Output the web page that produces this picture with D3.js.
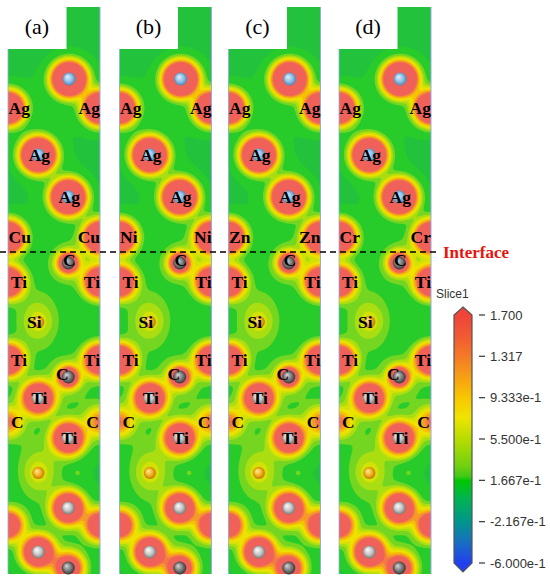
<!DOCTYPE html>
<html><head><meta charset="utf-8">
<script src="https://cdn.jsdelivr.net/npm/d3@7"></script>
<style>body{margin:0;background:#fff}</style>
</head><body><svg id="c" width="550" height="584"></svg>
<script>
// ---------------- data ----------------
const panelLabels = ["(a)", "(b)", "(c)", "(d)"];
const interfaceMetal = ["Cu", "Ni", "Zn", "Cr"];
// atom sites: fractional position across the slice (u: 0..1) and depth z (Å)
const atoms = [
  {el:"Ag", kind:"Ag",   u:0.665, z:7.2,  ball:"blue",   label:false},
  {el:"Ag", kind:"AgE",  u:0,     z:10.1, ball:null,     label:true},
  {el:"Ag", kind:"AgE",  u:1,     z:10.1, ball:null,     label:true},
  {el:"Ag", kind:"Ag",   u:0.33,  z:14.8, ball:"blue",   label:true},
  {el:"Ag", kind:"Ag",   u:0.655, z:19.0, ball:"blue",   label:true},
  {el:"M",  kind:"M",    u:0,     z:23.0, ball:null,     label:true},
  {el:"M",  kind:"M",    u:1,     z:23.0, ball:null,     label:true},
  {el:"C",  kind:"C",    u:0.655, z:25.6, ball:"dark",   label:true},
  {el:"Ti", kind:"TiE",  u:0,     z:27.5, ball:null,     label:true},
  {el:"Ti", kind:"TiE",  u:1,     z:27.5, ball:null,     label:true},
  {el:"Si", kind:"Si",   u:0.33,  z:31.5, ball:"orange", label:true},
  {el:"Ti", kind:"TiE",  u:0,     z:35.3, ball:null,     label:true},
  {el:"Ti", kind:"TiE",  u:1,     z:35.3, ball:null,     label:true},
  {el:"C",  kind:"C",    u:0.655, z:37.0, ball:"dark",   label:true},
  {el:"Ti", kind:"Ti",   u:0.33,  z:39.1, ball:"gray",   label:true},
  {el:"C",  kind:"CE",   u:0,     z:41.5, ball:null,     label:true},
  {el:"C",  kind:"CE",   u:1,     z:41.5, ball:null,     label:true},
  {el:"Ti", kind:"Ti",   u:0.655, z:43.1, ball:"gray",   label:true},
  {el:"Si", kind:"Si",   u:0.33,  z:46.6, ball:"orange", label:false},
  {el:"",   kind:"spot", u:0.76,  z:46.6, ball:null,     label:false},
  {el:"Ti", kind:"Ti",   u:0.655, z:50.1, ball:"gray",   label:false},
  {el:"Ti", kind:"TiE2", u:0,     z:51.8, ball:null,     label:false},
  {el:"Ti", kind:"TiE2", u:1,     z:51.8, ball:null,     label:false},
  {el:"Ti", kind:"Ti",   u:0.33,  z:54.5, ball:"gray",   label:false},
  {el:"Ti", kind:"TiB",  u:0.655, z:56.1, ball:"dark",   label:false}
];
const interfaceZ = 24.5;
// colour bar
const barTicks = [1.700, 1.317, 0.9333, 0.5500, 0.1667, -0.2167, -0.6000];
const barTickLabels = ["1.700", "1.317", "9.333e-1", "5.500e-1", "1.667e-1", "-2.167e-1", "-6.000e-1"];
const barStops = [
  [1.70, "#f0443a"], [1.50, "#f25a32"], [1.317, "#f47a28"], [1.12, "#f6a014"],
  [0.933, "#f8c600"], [0.75, "#f0e400"], [0.55, "#b8dc00"], [0.30, "#70d010"],
  [0.20, "#40c818"], [0.1667, "#00c800"], [0.0, "#00b450"], [-0.2167, "#00968c"],
  [-0.40, "#1870c0"], [-0.60, "#2040f0"]
];
// field colour levels
const fieldLevels = [-10, 0.19, 0.33, 0.45, 0.58, 0.72, 0.95, 1.2, 1.48, 1.7];
const fieldColors = ["#22c23c", "#28cc2a", "#74d620", "#aade10", "#d3e204", "#ece100", "#f5c200", "#f59a28", "#f37a42", "#f0615a"];

// ---------------- layout ----------------
const svg = d3.select("#c");
const W = 92, H = 567, TOP = 7;
const lefts = [8, 119.5, 228.5, 339];
const xs = d3.scaleLinear().domain([0, 1]).range([0, W]);
const zs = d3.scaleLinear().domain([0, 56.7]).range([0, H]);

const defs = svg.append("defs");
const ballGrad = {
  blue:   ["#e4f2fc", "#8ec0e6", "#3f7bae"],
  gray:   ["#ffffff", "#c4c4c4", "#6a6a6a"],
  dark:   ["#d8d8d8", "#7a7a7a", "#2a2a2a"],
  orange: ["#fff0a0", "#f0b020", "#b86a00"]
};
Object.entries(ballGrad).forEach(([k, c]) => {
  const g = defs.append("radialGradient").attr("id", "ball-" + k)
    .attr("cx", "50%").attr("cy", "50%").attr("r", "55%").attr("fx", "35%").attr("fy", "32%");
  g.append("stop").attr("offset", "0%").attr("stop-color", c[0]);
  g.append("stop").attr("offset", "55%").attr("stop-color", c[1]);
  g.append("stop").attr("offset", "100%").attr("stop-color", c[2]);
});

function contrib(kind, dx, dy) {
  const r2 = dx*dx + dy*dy;
  const tail = 0.1 * Math.exp(-r2 / 900);
  const core = R => 1.7 * Math.exp((R*R - r2) / 150);
  switch (kind) {
    case "Ag":   return core(16) + tail;
    case "AgE":  return core(14.5) + tail;
    case "M":    return core(14) + tail;
    case "TiE":  return core(13) + tail;
    case "TiE2": return core(10.5) + tail;
    case "Ti":   return core(13.2) + tail;
    case "TiB":  return core(10.5) + tail;
    case "C":    return 1.7 * Math.exp((64 - r2) / 70) + 0.3 * Math.exp(-r2 / 300) + tail;
    case "CE":   return 1.25 * Math.exp(-r2 / 130) + 0.2 * Math.exp(-r2 / 400) + tail;
    case "Si":   return 0.3 * Math.exp(-(dx*dx/386 + (dy+2)*(dy+2)/700)) + 0.14 * Math.exp(-r2 / 110) + tail;
    case "spot": return 0.14 * Math.exp(-r2 / 16);
  }
  return 0;
}

const colorOf = d3.scaleOrdinal(fieldLevels, fieldColors);

panelLabels.forEach((lab, p) => {
  const g = svg.append("g").attr("transform", `translate(${lefts[p]},${TOP})`);
  const pos = atoms.map(a => ({...a, px: xs(a.u), py: zs(a.z),
      name: a.el === "M" ? interfaceMetal[p] : a.el}));
  const vals = new Float64Array(W * H);
  for (let j = 0; j < H; j++) {
    const py = j + 0.5;
    for (let i = 0; i < W; i++) {
      const px = i + 0.5;
      let v = 0.15;
      for (const a of pos) {
        const dx = px - a.px, dy = py - a.py;
        if (dx*dx + dy*dy > 5000) continue;
        v += contrib(a.kind, dx, dy);
      }
      vals[j * W + i] = v;
    }
  }
  const contours = d3.contours().size([W, H]).thresholds(fieldLevels)(vals);
  g.selectAll("path.field").data(contours).join("path").attr("class", "field")
    .attr("d", d3.geoPath()).attr("fill", d => colorOf(d.value));
  // thin edges
  g.append("line").attr("x1", W).attr("x2", W).attr("y1", 0).attr("y2", H)
    .attr("stroke", "#9aa8ee").attr("stroke-width", 1);
  g.append("line").attr("x1", 0).attr("x2", 0).attr("y1", 42).attr("y2", H)
    .attr("stroke", "#8fb0e0").attr("stroke-width", 0.8);
  // balls
  g.selectAll("circle.ball").data(pos.filter(a => a.ball)).join("circle").attr("class", "ball")
    .attr("cx", a => a.px).attr("cy", a => a.py).attr("r", a => a.ball === "orange" ? 6 : 6.5)
    .attr("fill", a => `url(#ball-${a.ball})`);
  // labels
  g.selectAll("text.el").data(pos.filter(a => a.label)).join("text").attr("class", "el")
    .attr("x", a => a.u === 0 ? a.px + (a.kind === "CE" || a.kind === "TiE" ? 3 : 0.5)
                 : a.u === 1 ? a.px - (a.kind === "CE" ? 1 : 0)
                 : a.px + (a.kind === "C" && a.z > 30 ? -6 : a.kind === "Si" ? -4 : 1))
    .attr("y", a => a.py + (a.kind === "C" ? 3 : 5.5))
    .attr("text-anchor", a => a.u === 0 ? "start" : a.u === 1 ? "end" : "middle")
    .attr("font-family", "Liberation Serif, Times New Roman, serif")
    .attr("font-weight", "bold").attr("font-size", 17.5).attr("fill", "#000")
    .text(a => a.name);
  // white label box
  g.append("rect").attr("x", -1).attr("y", -1).attr("width", 59.5).attr("height", 43).attr("fill", "#fff");
  g.append("text").attr("x", 29).attr("y", 27).attr("text-anchor", "middle")
    .attr("font-family", "Liberation Serif, Times New Roman, serif").attr("font-size", 22)
    .attr("fill", "#000").text(lab);
});

// interface line
svg.append("line").attr("x1", 0).attr("x2", 438)
  .attr("y1", TOP + zs(interfaceZ)).attr("y2", TOP + zs(interfaceZ))
  .attr("stroke", "#000").attr("stroke-width", 1.6).attr("stroke-dasharray", "6,4");
svg.append("text").attr("x", 443).attr("y", TOP + zs(interfaceZ) + 6)
  .attr("font-family", "Liberation Serif, Times New Roman, serif").attr("font-weight", "bold")
  .attr("font-size", 17).attr("fill", "#e8140c").text("Interface");

// colour bar
const by = d3.scaleLinear().domain([-0.6, 1.7]).range([563, 315]);
const bx0 = 454, bx1 = 472, bxm = 463;
const gy0 = 307, gy1 = 572;
const lg = defs.append("linearGradient").attr("id", "bar").attr("x1", 0).attr("x2", 0)
  .attr("y1", gy0).attr("y2", gy1).attr("gradientUnits", "userSpaceOnUse");
lg.append("stop").attr("offset", 0).attr("stop-color", barStops[0][1]);
barStops.forEach(([v, c]) => {
  lg.append("stop").attr("offset", (by(v) - gy0) / (gy1 - gy0)).attr("stop-color", c);
});
lg.append("stop").attr("offset", 1).attr("stop-color", barStops[barStops.length - 1][1]);
const shape = [[bxm, by(1.7) - 8], [bx1, by(1.7)], [bx1, by(-0.6)], [bxm, by(-0.6) + 9], [bx0, by(-0.6)], [bx0, by(1.7)]];
svg.append("path").attr("d", "M" + shape.join("L") + "Z").attr("fill", "url(#bar)")
  .attr("stroke", "#555").attr("stroke-width", 1.2);
svg.selectAll("line.tick").data(barTicks).join("line").attr("class", "tick")
  .attr("x1", 479).attr("x2", 485).attr("y1", d => by(d)).attr("y2", d => by(d))
  .attr("stroke", "#333").attr("stroke-width", 1.2);
svg.selectAll("text.tick").data(barTicks).join("text").attr("class", "tick")
  .attr("x", 490).attr("y", d => by(d) + 4.5)
  .attr("font-family", "Liberation Sans, Arial, sans-serif").attr("font-size", 13).attr("fill", "#333")
  .text((d, i) => barTickLabels[i]);
svg.append("text").attr("x", 436).attr("y", 298)
  .attr("font-family", "Liberation Sans, Arial, sans-serif").attr("font-size", 12).attr("fill", "#333")
  .text("Slice1");
</script></body></html>
